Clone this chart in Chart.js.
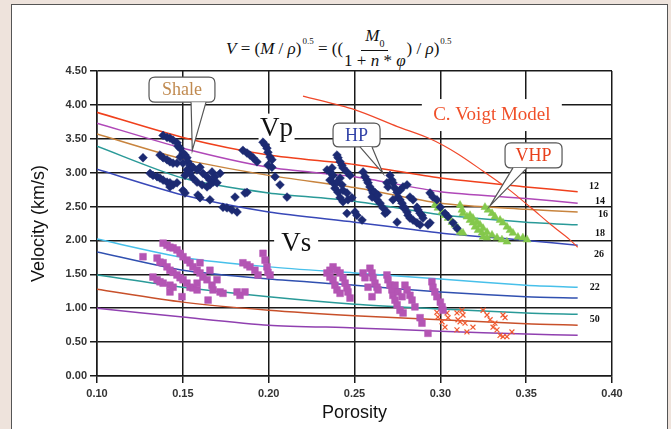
<!DOCTYPE html>
<html><head><meta charset="utf-8">
<script src="https://cdn.jsdelivr.net/npm/chart.js@4.4.0/dist/chart.umd.min.js"></script>
<style>
html,body{margin:0;padding:0;}
body{width:671px;height:429px;background:#eee3dc;position:relative;overflow:hidden;}
#panel{position:absolute;left:11px;top:4px;width:655px;height:440px;background:#fff;border:1px solid #555;}
#wrap{position:absolute;left:0;top:0;width:671px;height:429px;}
#formula{position:absolute;left:226px;top:27px;font-family:"Liberation Serif",serif;font-size:17px;color:#111;white-space:nowrap;display:flex;align-items:center;}
#formula i{font-style:italic;}
#formula sup{font-size:9px;position:relative;top:-8px;margin-left:1px;}
#formula .frac{display:inline-flex;flex-direction:column;align-items:center;margin:0 1px;}
#formula .num{border-bottom:1px solid #111;padding:0 4px;line-height:17px;}
#formula .num sub{font-size:10px;position:relative;top:2px;}
#formula .den{line-height:19px;}
</style></head>
<body>
<div id="panel"></div>
<div id="formula"><i>V</i>&nbsp;= (<i>M</i>&nbsp;/&nbsp;<i>ρ</i>)<sup>0.5</sup>&nbsp;= ((<span class="frac"><span class="num"><i>M</i><sub>0</sub></span><span class="den">1 + <i>n</i> * <i>φ</i></span></span>)&nbsp;/&nbsp;<i>ρ</i>)<sup>0.5</sup></div>
<div id="wrap"><canvas id="c" width="671" height="429"></canvas></div>
<script>
// ---- data ----
const curveX = [0.10, 0.15, 0.20, 0.25, 0.30, 0.35, 0.38];
const vp12 = [3.89, 3.52, 3.26, 3.12, 2.92, 2.79, 2.72];
const vp14 = [3.73, 3.36, 3.08, 2.94, 2.72, 2.62, 2.55];
const vp16 = [3.57, 3.20, 2.96, 2.78, 2.55, 2.46, 2.42];
const vp18 = [3.39, 2.92, 2.70, 2.58, 2.38, 2.27, 2.23];
const vp26 = [3.05, 2.67, 2.42, 2.27, 2.11, 2.00, 1.93];
const vs22 = [2.02, 1.75, 1.61, 1.52, 1.43, 1.34, 1.31];
const vsB  = [1.83, 1.56, 1.43, 1.34, 1.24, 1.17, 1.15];
const vsT  = [1.49, 1.31, 1.17, 1.06, 0.99, 0.93, 0.91];
const vs50 = [1.28, 1.09, 0.97, 0.89, 0.83, 0.77, 0.75];
const vsP  = [1.00, 0.87, 0.75, 0.71, 0.66, 0.62, 0.60];

const voigtX = [0.220, 0.250, 0.275, 0.294, 0.310, 0.325, 0.340, 0.352, 0.365, 0.375, 0.380];
const voigtY = [4.13, 3.93, 3.68, 3.50, 3.28, 3.02, 2.75, 2.50, 2.22, 2.02, 1.90];

const vpShale = [[0.1385,3.55],[0.1408,3.52],[0.1425,3.51],[0.1443,3.48],[0.1466,3.44],[0.1472,3.39],[0.1484,3.36],[0.1268,3.22],[0.1367,3.26],[0.1385,3.22],[0.1408,3.19],[0.1425,3.16],[0.1443,3.14],[0.1466,3.14],[0.1484,3.23],[0.1501,3.29],[0.1513,3.26],[0.1524,3.22],[0.153,3.16],[0.1542,3.11],[0.1553,3.07],[0.1559,3.08],[0.1583,3.04],[0.160,3.08],[0.1617,2.99],[0.1641,2.94],[0.1658,2.89],[0.1676,2.86],[0.1699,2.85],[0.1717,2.99],[0.1542,2.99],[0.1559,2.92],[0.1583,2.86],[0.1612,2.82],[0.1641,2.79],[0.1658,2.82],[0.167,3.01],[0.1687,2.94],[0.1501,3.14],[0.1524,3.04],[0.1513,2.96],[0.1309,2.99],[0.1326,2.96],[0.135,2.94],[0.1367,2.92],[0.1385,2.89],[0.1408,2.86],[0.1425,2.85],[0.1443,2.82],[0.1466,2.85],[0.1425,2.79],[0.1501,2.74],[0.1513,2.70],[0.1588,2.67],[0.160,2.63],[0.1658,2.60],[0.1734,2.49],[0.1757,2.48],[0.1786,2.45],[0.1816,2.42],[0.1804,2.64],[0.1862,2.70],[0.1874,2.71],[0.185,3.33],[0.1874,3.29],[0.1891,3.26],[0.1909,3.22],[0.1932,3.16],[0.1967,3.45],[0.1979,3.41],[0.199,3.36],[0.1996,3.30],[0.2008,3.23],[0.2019,3.19],[0.1996,3.11],[0.2019,3.08],[0.2037,2.94],[0.2066,2.82],[0.2107,2.64]];
const vpHP = [[0.2398,3.26],[0.2404,3.22],[0.2416,3.16],[0.2427,3.11],[0.2433,3.07],[0.2456,3.01],[0.2474,2.96],[0.234,3.04],[0.2357,3.01],[0.2369,3.07],[0.2375,2.96],[0.2357,2.89],[0.2375,2.85],[0.2398,2.86],[0.2416,2.92],[0.2427,2.82],[0.2386,2.77],[0.2404,2.71],[0.2433,2.74],[0.2456,2.70],[0.2416,2.63],[0.2433,2.57],[0.2462,2.60],[0.2485,2.63],[0.2456,2.40],[0.2503,2.42],[0.2514,2.37],[0.2544,2.30],[0.255,3.01],[0.2561,2.94],[0.2573,2.89],[0.2579,2.85],[0.259,2.79],[0.2602,2.74],[0.2608,2.70],[0.2619,2.64],[0.2631,2.60],[0.2649,2.55],[0.2666,2.48],[0.2678,2.40],[0.2689,2.42],[0.2602,2.64],[0.2619,2.71],[0.2637,2.67],[0.2689,2.85],[0.2695,2.79],[0.2707,2.96],[0.2718,2.89],[0.2724,2.85],[0.2736,2.77],[0.2748,2.71],[0.2753,2.64],[0.2765,2.60],[0.2777,2.55],[0.2783,2.49],[0.2794,2.48],[0.2806,2.42],[0.2812,2.37],[0.2823,2.33],[0.2841,2.30],[0.2864,2.26],[0.2882,2.23],[0.2748,2.27],[0.2724,2.60],[0.2765,2.74],[0.2783,2.79],[0.2806,2.82],[0.2823,2.64],[0.2841,2.60],[0.2864,2.49],[0.287,2.45],[0.2893,2.37],[0.2899,2.33],[0.2928,2.23],[0.294,2.70],[0.2957,2.64],[0.298,2.60],[0.300,2.49],[0.3027,2.40],[0.3045,2.35],[0.3074,2.26],[0.3097,2.18],[0.2882,2.40],[0.294,2.26]];
const vpVHP = [[0.2968,2.52],[0.2986,2.48],[0.301,2.42],[0.3027,2.37],[0.3045,2.33],[0.3068,2.27],[0.3085,2.23],[0.3103,2.18],[0.3115,2.12],[0.3132,2.11],[0.3115,2.52],[0.3126,2.45],[0.3132,2.40],[0.3155,2.35],[0.3173,2.30],[0.319,2.26],[0.3202,2.20],[0.322,2.15],[0.3243,2.11],[0.3249,2.05],[0.3272,2.04],[0.3173,2.37],[0.319,2.33],[0.3214,2.27],[0.3231,2.23],[0.3249,2.18],[0.3272,2.12],[0.3301,2.08],[0.333,2.04],[0.3359,2.01],[0.3388,1.98],[0.326,2.49],[0.3278,2.45],[0.3301,2.40],[0.3318,2.35],[0.3348,2.30],[0.3365,2.26],[0.3388,2.20],[0.3406,2.15],[0.3423,2.11],[0.3452,2.05],[0.3481,2.04],[0.3505,2.01]];
const vsSquares = [[0.1385,1.96],[0.1408,1.93],[0.1425,1.90],[0.1443,1.89],[0.1466,1.86],[0.1484,1.81],[0.1501,1.76],[0.1524,1.71],[0.1542,1.67],[0.1559,1.61],[0.1583,1.56],[0.160,1.52],[0.1268,1.76],[0.135,1.74],[0.1367,1.68],[0.1385,1.67],[0.1408,1.61],[0.1425,1.56],[0.1443,1.53],[0.1466,1.49],[0.1484,1.45],[0.1501,1.42],[0.1524,1.37],[0.1542,1.31],[0.1559,1.30],[0.1583,1.27],[0.1326,1.46],[0.135,1.42],[0.1367,1.39],[0.1385,1.37],[0.1425,1.34],[0.1443,1.31],[0.1495,1.17],[0.1425,1.24],[0.160,1.67],[0.1617,1.46],[0.1641,1.42],[0.1658,1.56],[0.167,1.34],[0.1676,1.27],[0.1699,1.42],[0.1717,1.24],[0.1734,1.22],[0.1816,1.24],[0.1833,1.19],[0.1862,1.24],[0.185,1.67],[0.1874,1.64],[0.1891,1.61],[0.192,1.56],[0.1938,1.49],[0.1967,1.81],[0.1979,1.71],[0.199,1.61],[0.1996,1.53],[0.2008,1.49],[0.1647,1.12],[0.1583,1.37],[0.234,1.52],[0.2357,1.46],[0.2375,1.42],[0.2386,1.34],[0.2398,1.27],[0.2416,1.22],[0.2474,1.15],[0.2357,1.56],[0.2375,1.61],[0.2398,1.56],[0.2416,1.52],[0.2433,1.45],[0.2445,1.37],[0.2456,1.30],[0.2462,1.24],[0.259,1.59],[0.2602,1.52],[0.2608,1.45],[0.2619,1.37],[0.2631,1.31],[0.2637,1.27],[0.255,1.52],[0.2561,1.45],[0.2579,1.31],[0.2602,1.17],[0.2689,1.49],[0.2695,1.42],[0.2707,1.34],[0.2718,1.27],[0.2724,1.19],[0.2736,1.12],[0.2748,1.05],[0.2765,0.97],[0.2783,0.93],[0.2736,1.34],[0.2753,1.24],[0.2777,1.17],[0.2794,1.34],[0.2806,1.27],[0.2823,1.19],[0.2835,1.12],[0.2852,1.02],[0.2882,0.86],[0.2893,0.78],[0.2928,0.63],[0.2951,1.39],[0.2957,1.31],[0.2968,1.24],[0.298,1.17],[0.300,1.09],[0.301,1.02],[0.3016,0.97]];
const vsCrosses = [[0.298,0.94],[0.2986,0.87],[0.301,0.80],[0.3027,0.72],[0.3039,0.93],[0.3045,0.86],[0.3097,0.93],[0.3103,0.83],[0.3126,0.97],[0.3132,0.90],[0.3115,0.80],[0.3144,0.78],[0.319,0.72],[0.3097,0.68],[0.3155,0.65],[0.3249,0.97],[0.3272,0.90],[0.329,0.83],[0.3307,0.72],[0.333,0.68],[0.3348,0.60],[0.3365,0.58],[0.3388,0.58],[0.3417,0.65],[0.3365,0.90],[0.3377,0.86],[0.3318,0.78]];

const curveLabels = ['12','14','16','18','26','22','50'];
const curveLabelX = [0.3895, 0.3930, 0.3948, 0.3930, 0.3924, 0.3900, 0.3900];
const curveLabelY = [2.79, 2.58, 2.39, 2.11, 1.80, 1.31, 0.84];

const xTicks = [0.10, 0.15, 0.20, 0.25, 0.30, 0.35, 0.40];
const yTicks = [0.00, 0.50, 1.00, 1.50, 2.00, 2.50, 3.00, 3.50, 4.00, 4.50];

// ---- build ----
const toPts = arr => arr.map(p => ({x: p[0], y: p[1]}));
const curve = ys => curveX.map((x, i) => ({x, y: ys[i]}));
const lineDs = (ys, color) => ({data: curve(ys), showLine: true, borderColor: color, borderWidth: 1.5, pointRadius: 0, tension: 0.25, fill: false});

const datasets = [
  {data: toPts(vpShale), pointStyle: 'rectRot', pointRadius: 4.4, backgroundColor: '#1c2a72', borderColor: '#1c2a72', borderWidth: 0.5},
  {data: toPts(vpHP), pointStyle: 'rectRot', pointRadius: 4.4, backgroundColor: '#1c2a72', borderColor: '#1c2a72', borderWidth: 0.5},
  {data: toPts(vpVHP), pointStyle: 'triangle', pointRadius: 4.6, backgroundColor: '#84c84c', borderColor: '#84c84c', borderWidth: 0.5},
  {data: toPts(vsSquares), pointStyle: 'rect', pointRadius: 4.8, backgroundColor: '#b455b4', borderColor: '#b455b4', borderWidth: 0.5},
  {data: toPts(vsCrosses), pointStyle: 'crossRot', pointRadius: 3.5, backgroundColor: '#f05a30', borderColor: '#f05a30', borderWidth: 1.2},
  {data: voigtX.map((x, i) => ({x, y: voigtY[i]})), showLine: true, borderColor: '#f0482a', borderWidth: 1.2, pointRadius: 0, tension: 0.3},
  lineDs(vp12, '#f0401c'),
  lineDs(vp14, '#b048b8'),
  lineDs(vp16, '#c8843e'),
  lineDs(vp18, '#2a9a98'),
  lineDs(vp26, '#3848b8'),
  lineDs(vs22, '#48c0ea'),
  lineDs(vsB, '#3050b0'),
  lineDs(vsT, '#2a9a98'),
  lineDs(vs50, '#c8502a'),
  lineDs(vsP, '#9040b0'),
];

const textBoxes = [
  {text: 'Vp', x: 0.2046, y: 3.65, font: '27px "Liberation Serif"', color: '#111', w: 36, h: 30},
  {text: 'Vs', x: 0.2160, y: 1.95, font: '27px "Liberation Serif"', color: '#111', w: 44, h: 22},
  {text: 'C. Voigt Model', x: 0.3300, y: 3.85, font: '19px "Liberation Serif"', color: '#f0502a', w: 140, h: 32},
];
const bubbles = [
  {text: 'Shale', color: '#c08a50', x0: 0.1303, x1: 0.1687, y0: 4.41, y1: 4.04, pa: 0.1548, pb: 0.1635, tipX: 0.1555, tipY: 3.33},
  {text: 'HP', color: '#3444a8', x0: 0.2375, x1: 0.2649, y0: 3.73, y1: 3.38, pa: 0.2532, pb: 0.2602, tipX: 0.2666, tipY: 2.99},
  {text: 'VHP', color: '#e8401c', x0: 0.3377, x1: 0.3709, y0: 3.44, y1: 3.07, pa: 0.3423, pb: 0.3505, tipX: 0.3289, tipY: 2.51},
];

function rr(ctx, x, y, w, h, r) {
  ctx.beginPath();
  ctx.moveTo(x + r, y); ctx.lineTo(x + w - r, y); ctx.quadraticCurveTo(x + w, y, x + w, y + r);
  ctx.lineTo(x + w, y + h - r); ctx.quadraticCurveTo(x + w, y + h, x + w - r, y + h);
  ctx.lineTo(x + r, y + h); ctx.quadraticCurveTo(x, y + h, x, y + h - r);
  ctx.lineTo(x, y + r); ctx.quadraticCurveTo(x, y, x + r, y); ctx.closePath();
}

const annot = {
  id: 'annot',
  beforeDatasetsDraw(chart) {
    const {ctx, scales: {x, y}} = chart;
    ctx.save();
    textBoxes.forEach(t => {
      const px = x.getPixelForValue(t.x), py = y.getPixelForValue(t.y);
      ctx.fillStyle = '#fff';
      ctx.fillRect(px - t.w / 2, py - t.h / 2, t.w, t.h);
      ctx.font = t.font; ctx.fillStyle = t.color;
      ctx.textAlign = 'center'; ctx.textBaseline = 'middle';
      ctx.fillText(t.text, px, py);
    });
    ctx.restore();
  },
  afterDatasetsDraw(chart) {
    const {ctx, scales: {x, y}} = chart;
    ctx.save();
    bubbles.forEach(b => {
      const X0 = x.getPixelForValue(b.x0), X1 = x.getPixelForValue(b.x1);
      const Y0 = y.getPixelForValue(b.y0), Y1 = y.getPixelForValue(b.y1);
      const A = x.getPixelForValue(b.pa), B = x.getPixelForValue(b.pb);
      const TX = x.getPixelForValue(b.tipX), TY = y.getPixelForValue(b.tipY);
      ctx.lineWidth = 1.2; ctx.strokeStyle = '#555'; ctx.fillStyle = '#fff';
      rr(ctx, X0, Y0, X1 - X0, Y1 - Y0, 6);
      ctx.fill(); ctx.stroke();
      ctx.beginPath(); ctx.moveTo(A, Y1); ctx.lineTo(TX, TY); ctx.lineTo(B, Y1); ctx.closePath();
      ctx.fill();
      ctx.beginPath(); ctx.moveTo(A, Y1); ctx.lineTo(TX, TY); ctx.lineTo(B, Y1); ctx.stroke();
      ctx.font = '18px "Liberation Serif"'; ctx.fillStyle = b.color;
      ctx.textAlign = 'center'; ctx.textBaseline = 'middle';
      ctx.fillText(b.text, (X0 + X1) / 2, (Y0 + Y1) / 2 + 1);
    });
    ctx.font = 'bold 10px "Liberation Serif"'; ctx.fillStyle = '#111';
    ctx.textAlign = 'center'; ctx.textBaseline = 'middle';
    curveLabels.forEach((l, i) => ctx.fillText(l, x.getPixelForValue(curveLabelX[i]), y.getPixelForValue(curveLabelY[i])));
    ctx.restore();
  }
};

const tickFont = {family: '"Liberation Sans", Arial, sans-serif', size: 11, weight: 'bold'};
new Chart(document.getElementById('c'), {
  type: 'scatter',
  data: {datasets},
  plugins: [annot],
  options: {
    responsive: false, animation: false, devicePixelRatio: 1,
    layout: {padding: {left: 0, top: 71, right: 59, bottom: 0}},
    plugins: {legend: {display: false}, tooltip: {enabled: false}},
    scales: {
      x: {
        type: 'linear', min: xTicks[0], max: xTicks[xTicks.length - 1],
        afterFit: s => { s.height = 53; },
        afterBuildTicks: s => { s.ticks = xTicks.map(v => ({value: v})); },
        ticks: {callback: v => Number(v).toFixed(2), color: '#333', font: tickFont, padding: 4, maxRotation: 0, autoSkip: false},
        grid: {color: '#1a1a1a', lineWidth: 1.5, tickLength: 7},
        border: {color: '#1a1a1a', width: 1.5},
        title: {display: true, text: 'Porosity', color: '#111', font: {family: '"Liberation Sans", Arial, sans-serif', size: 18}, padding: {top: 0, bottom: 5}}
      },
      y: {
        type: 'linear', min: yTicks[0], max: yTicks[yTicks.length - 1],
        afterFit: s => { s.width = 97; },
        afterBuildTicks: s => { s.ticks = yTicks.map(v => ({value: v})); },
        ticks: {callback: v => Number(v).toFixed(2), color: '#333', font: tickFont, padding: 3, autoSkip: false},
        grid: {color: '#1a1a1a', lineWidth: 1.5, tickLength: 7},
        border: {color: '#1a1a1a', width: 1.5},
        title: {display: true, text: 'Velocity (km/s)', color: '#111', font: {family: '"Liberation Sans", Arial, sans-serif', size: 18}, padding: {top: 28, bottom: 0}}
      }
    }
  }
});
</script>
</body></html>
